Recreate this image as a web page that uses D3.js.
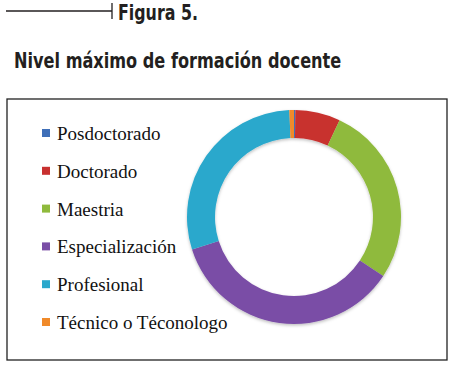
<!DOCTYPE html>
<html>
<head>
<meta charset="utf-8">
<script src="https://cdn.jsdelivr.net/npm/d3@7"></script>
<style>
  body { margin: 0; background: #fff; }
  svg { display: block; }
</style>
</head>
<body>
<div id="chart"></div>
<script>
// datos (porcentaje aproximado)
const categorias = ['Posdoctorado', 'Doctorado', 'Maestria', 'Especialización', 'Profesional', 'Técnico o Téconologo'];
const valores = [0.2, 6.8, 27.3, 35.8, 29.2, 0.7];
const colores = ['#3f6fb8', '#c8302f', '#8fba3c', '#7a4ea6', '#2aa8cc', '#f08a2a'];

const width = 453, height = 369;
const svg = d3.select('#chart').append('svg')
    .attr('width', width)
    .attr('height', height);

const fuenteTitulo = '"DejaVu Sans Condensed", "Liberation Sans Narrow", sans-serif';

// Encabezado
svg.append('line')
    .attr('x1', 6).attr('x2', 112).attr('y1', 11).attr('y2', 11)
    .style('stroke', '#231f20').style('stroke-width', 1.3);
svg.append('line')
    .attr('x1', 112).attr('x2', 112).attr('y1', 3).attr('y2', 19)
    .style('stroke', '#231f20').style('stroke-width', 1.3);
svg.append('text')
    .attr('transform', 'translate(118,20) scale(0.84,1)')
    .text('Figura 5.')
    .style('font-family', fuenteTitulo)
    .style('font-weight', 'bold')
    .style('font-size', '21px')
    .style('fill', '#231f20');
svg.append('text')
    .attr('transform', 'translate(14,68) scale(0.855,1)')
    .text('Nivel máximo de formación docente')
    .style('font-family', fuenteTitulo)
    .style('font-weight', 'bold')
    .style('font-size', '21px')
    .style('fill', '#231f20');

// Marco del grafico
svg.append('rect')
    .attr('x', 7).attr('y', 99).attr('width', 440).attr('height', 261)
    .style('fill', 'none')
    .style('stroke', '#222')
    .style('stroke-width', 1.3);

// Sombra suave del anillo
const defs = svg.append('defs');
const filtro = defs.append('filter').attr('id', 'sombra')
    .attr('x', '-20%').attr('y', '-20%').attr('width', '140%').attr('height', '140%');
filtro.append('feDropShadow')
    .attr('dx', 0).attr('dy', 1.5).attr('stdDeviation', 1.5)
    .attr('flood-color', '#000').attr('flood-opacity', 0.25);

// Anillo
const pie = d3.pie().sort(null).value(d => d);
const arc = d3.arc().innerRadius(79).outerRadius(107);
const g = svg.append('g')
    .attr('transform', 'translate(294,217)')
    .attr('filter', 'url(#sombra)');
g.selectAll('path')
    .data(pie(valores))
    .enter().append('path')
    .attr('d', arc)
    .style('fill', (d, i) => colores[i]);

// Leyenda
const y = d3.scalePoint().domain(categorias).range([140, 329]);
const ley = svg.selectAll('.ley')
    .data(categorias)
    .enter().append('g')
    .attr('class', 'ley')
    .attr('transform', d => `translate(42,${y(d)})`);
ley.append('rect')
    .attr('x', 0).attr('y', -11).attr('width', 8).attr('height', 8)
    .style('fill', (d, i) => colores[i]);
ley.append('text')
    .attr('x', 15).attr('y', 0)
    .text(d => d)
    .style('font-family', '"Liberation Serif", "Times New Roman", serif')
    .style('font-size', '19px')
    .style('fill', '#111');
</script>
</body>
</html>
